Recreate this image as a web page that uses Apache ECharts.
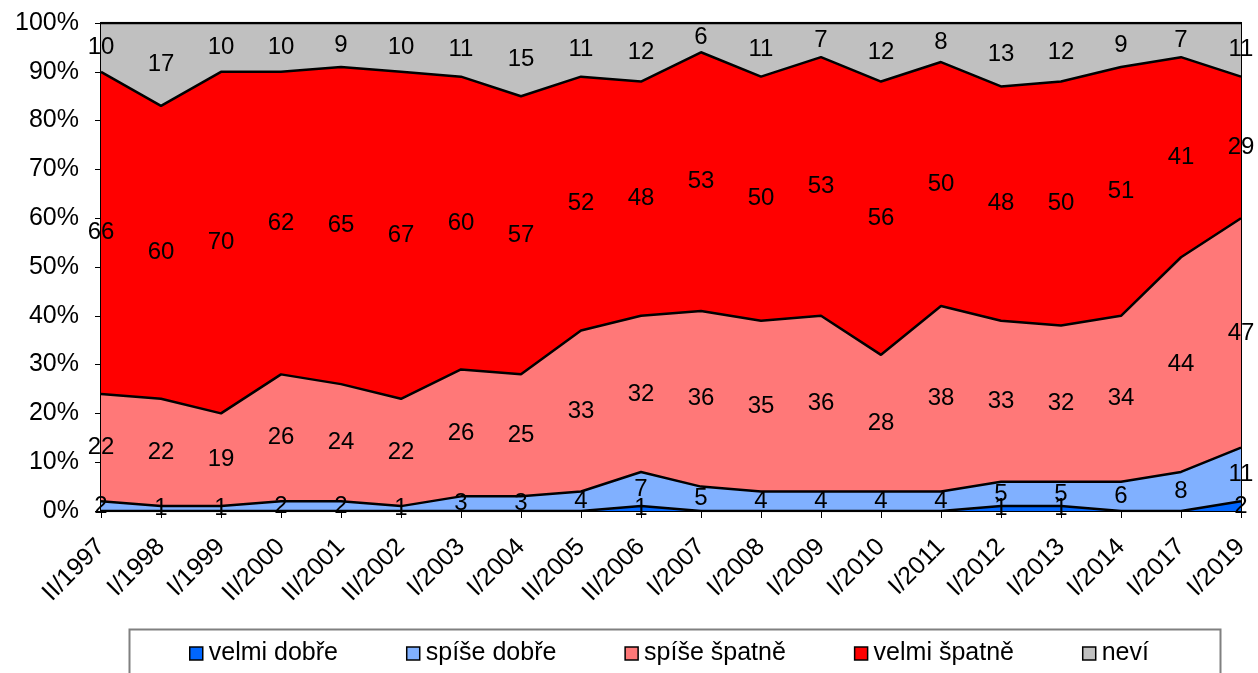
<!DOCTYPE html>
<html>
<head>
<meta charset="utf-8">
<script src="https://cdn.jsdelivr.net/npm/echarts@6/dist/echarts.min.js"></script>
<style>
html,body{margin:0;padding:0;background:#fff;}
#chart{width:1258px;height:673px;}
</style>
</head>
<body>
<div id="chart"></div>
<script>
const categories = ['II/1997','I/1998','I/1999','II/2000','II/2001','II/2002','I/2003','I/2004','II/2005','II/2006','I/2007','I/2008','I/2009','I/2010','I/2011','I/2012','I/2013','I/2014','I/2017','I/2019'];
const velmiDobre  = [0,0,0,0,0,0,0,0,0,1,0,0,0,0,0,1,1,0,0,2];
const spiseDobre  = [2,1,1,2,2,1,3,3,4,7,5,4,4,4,4,5,5,6,8,11];
const spiseSpatne = [22,22,19,26,24,22,26,25,33,32,36,35,36,28,38,33,32,34,44,47];
const velmiSpatne = [66,60,70,62,65,67,60,57,52,48,53,50,53,56,50,48,50,51,41,29];
const nevi        = [10,17,10,10,9,10,11,15,11,12,6,11,7,12,8,13,12,9,7,11];
const seriesNames = ['velmi dobře','spíše dobře','spíše špatně','velmi špatně','neví'];
const seriesColors = ['#0066FF','#80B0FF','#FF7878','#FF0000','#C0C0C0'];

const FONT = 'Liberation Sans, Arial, sans-serif';
const GRID = {left:101, right:17, top:23, bottom:162};
const plotH = 673 - GRID.top - GRID.bottom;
const pxPerUnit = plotH / 100;

function mkData(arr){
  return arr.map(v => ({
    value: v,
    label: {offset: [0, v * pxPerUnit / 2]}
  }));
}
function mkSeries(name, arr, color){
  return {
    name: name,
    type: 'line',
    stack: 'total',
    data: mkData(arr),
    color: color,
    symbol: 'circle',
    symbolSize: 0.1,
    showSymbol: true,
    itemStyle: {color: color},
    lineStyle: {color: '#000', width: 2.5},
    areaStyle: {color: color, opacity: 1},
    emphasis: {disabled: true},
    animation: false,
    label: {
      show: true,
      position: 'inside',
      color: '#000',
      fontFamily: FONT,
      fontSize: 24,
      formatter: p => (p.value === 0 ? '' : String(p.value))
    },
    z: 2
  };
}
const allData = [velmiDobre, spiseDobre, spiseSpatne, velmiSpatne, nevi];

const chart = echarts.init(document.getElementById('chart'), null, {renderer:'canvas'});
chart.setOption({
  animation: false,
  backgroundColor: '#fff',
  grid: {left: GRID.left, right: GRID.right, top: GRID.top, bottom: GRID.bottom, show: true, borderColor: '#000', borderWidth: 2},
  xAxis: {
    type: 'category',
    data: categories,
    boundaryGap: false,
    axisLine: {lineStyle: {color: '#000', width: 2}},
    axisTick: {show: true, length: 7, inside: false, lineStyle: {color: '#000'}, alignWithLabel: true},
    axisLabel: {interval: 0, rotate: 45, color: '#000', fontFamily: FONT, fontSize: 25, margin: 32},
    splitLine: {show: false}
  },
  yAxis: {
    type: 'value',
    min: 0, max: 100, interval: 10,
    axisLine: {show: true, lineStyle: {color: '#000', width: 2}},
    axisTick: {show: true, length: 6, lineStyle: {color: '#000'}},
    axisLabel: {color: '#000', fontFamily: FONT, fontSize: 25, margin: 22, formatter: '{value}%'},
    splitLine: {show: false}
  },
  legend: {
    left: 189, top: 641,
    padding: 0,
    itemGap: 68,
    itemWidth: 13, itemHeight: 13,
    icon: 'rect',
    itemStyle: {borderColor: '#000', borderWidth: 1.5},
    textStyle: {color: '#000', fontFamily: FONT, fontSize: 25, padding: [0,0,0,1]},
    data: seriesNames
  },
  graphic: [{
    type: 'rect',
    left: 127, top: 627,
    shape: {x: 0, y: 0, width: 1091, height: 70},
    style: {fill: 'none', stroke: '#808080', lineWidth: 2},
    silent: true
  }],
  series: seriesNames.map((n, i) => mkSeries(n, allData[i], seriesColors[i]))
});
</script>
</body>
</html>
